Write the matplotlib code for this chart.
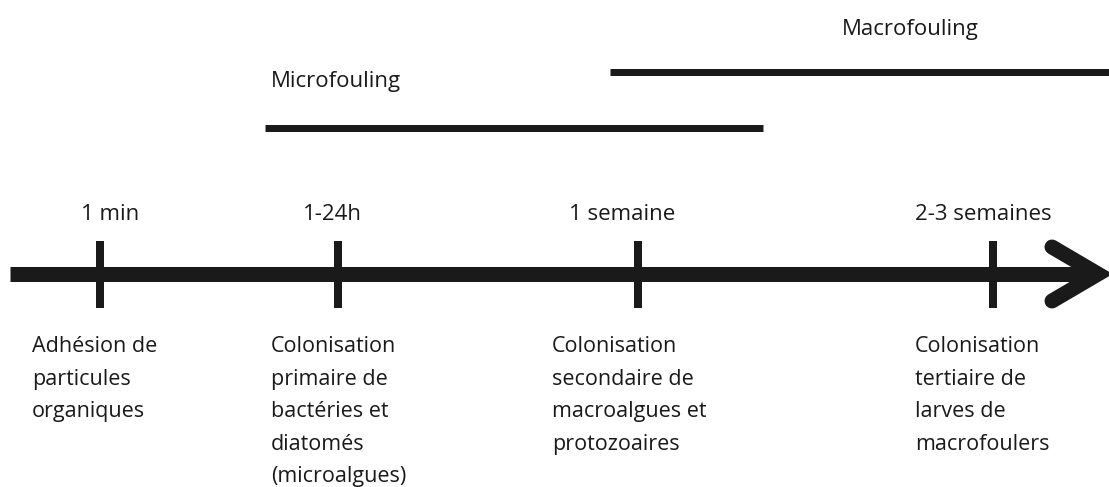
import matplotlib.pyplot as plt

plt.rcParams['font.family'] = ['Open Sans', 'DejaVu Sans']

W, H = 1109, 487
PT = 72 / 100  # pixels -> points at dpi 100

# timeline milestones
tick_x = [100, 338, 638, 993]
top_labels = ['1 min', '1-24h', '1 semaine', '2-3 semaines']
top_label_x = [81, 303, 569, 915]
bottom_label_x = [32, 271, 552, 915]
bottom_labels = [
    'Adhésion de\nparticules\norganiques',
    'Colonisation\nprimaire de\nbactéries et\ndiatomés\n(microalgues)',
    'Colonisation\nsecondaire de\nmacroalgues et\nprotozoaires',
    'Colonisation\ntertiaire de\nlarves de\nmacrofoulers',
]

# fouling phases
phase_names = ['Microfouling', 'Macrofouling']
phase_start = [265, 610]
phase_end = [763, 1109]
phase_y = [128, 72]
phase_label_xy = [(271, 81), (842, 29)]

fig = plt.figure(figsize=(W / 100, H / 100), dpi=100)
ax = fig.add_axes([0, 0, 1, 1])
ax.set_xlim(0, W)
ax.set_ylim(H, 0)
ax.axis('off')

axis_y = 274
ax.plot([10, 1098], [axis_y, axis_y], color='#1a1a1a', lw=15 * PT, solid_capstyle='butt')
ax.plot([1052, 1098, 1052], [247, axis_y, 301], color='#1a1a1a', lw=15 * PT,
        solid_capstyle='round', solid_joinstyle='miter')

for x in tick_x:
    ax.plot([x, x], [241, 308], color='#1a1a1a', lw=8 * PT, solid_capstyle='butt')

for x, lab in zip(top_label_x, top_labels):
    ax.text(x, 214, lab, fontsize=16, ha='left', va='center', color='#1a1a1a')

for x, lab in zip(bottom_label_x, bottom_labels):
    ax.text(x, 336, lab, fontsize=15.5, ha='left', va='top', color='#1a1a1a', linespacing=1.72)

for name, x0, x1, y, (tx, ty) in zip(phase_names, phase_start, phase_end, phase_y, phase_label_xy):
    ax.plot([x0, x1], [y, y], color='#1a1a1a', lw=7 * PT, solid_capstyle='butt')
    ax.text(tx, ty, name, fontsize=16, ha='left', va='center', color='#1a1a1a')

fig.savefig('out.png', dpi=100)
